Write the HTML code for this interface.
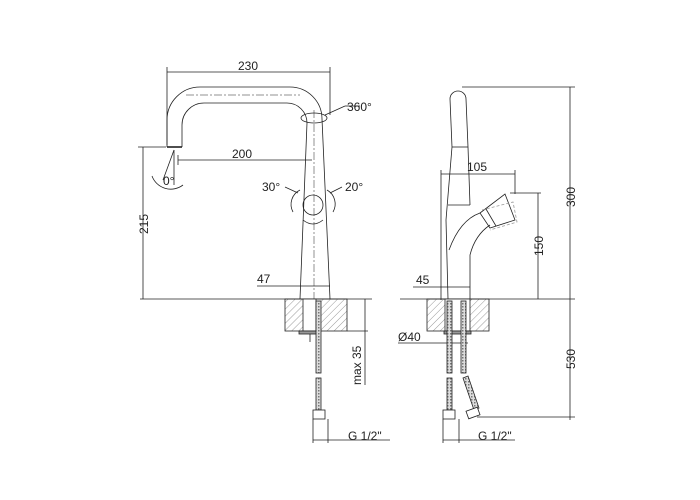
<!DOCTYPE html>
<html><head><meta charset="utf-8"><style>html,body{margin:0;padding:0;background:#fff}svg{display:block}text{font-family:"Liberation Sans",sans-serif;font-size:12px;fill:#222}</style></head><body>
<svg width="700" height="500" viewBox="0 0 700 500" xmlns="http://www.w3.org/2000/svg">
<defs>
<pattern id="h" width="5" height="5" patternUnits="userSpaceOnUse" patternTransform="rotate(45)"><line x1="0" y1="0" x2="0" y2="5" stroke="#555" stroke-width="0.6"/></pattern>
<pattern id="b" width="3" height="3" patternUnits="userSpaceOnUse"><rect width="3" height="3" fill="#ddd"/><rect width="1.5" height="1.5" fill="#777"/></pattern>
</defs>
<g fill="none" stroke="#222" stroke-width="0.8">
<!-- LEFT VIEW -->
<line x1="140" y1="299" x2="372" y2="299"/>
<path d="M167 147 V120 A33 33 0 0 1 200 87 H290 A32 32 0 0 1 322 119 L330 299"/>
<path d="M182 147 V125 A22 22 0 0 1 204 103 H287 A20 20 0 0 1 307 123 L300 299"/>
<line x1="167" y1="147" x2="182" y2="147" stroke-width="1.6"/>
<line x1="186" y1="95" x2="300" y2="95" stroke-dasharray="8 2 2 2" stroke-width="0.5"/>
<line x1="314" y1="110" x2="314" y2="299" stroke-dasharray="8 2 2 2" stroke-width="0.5"/>
<ellipse cx="314" cy="118" rx="13" ry="5"/>
<circle cx="313" cy="205" r="10"/>
<path d="M303 220 Q313 228 323 220"/>
<path d="M300 190 A16 16 0 0 0 293 212"/><path d="M327 190 A16 16 0 0 1 333 212"/>
<path d="M152 176 A20 20 0 0 0 183 185"/>
<line x1="174" y1="150" x2="163" y2="180"/><line x1="174" y1="150" x2="174" y2="185"/>
<line x1="167" y1="72" x2="330" y2="72"/><line x1="167" y1="67" x2="167" y2="145"/><line x1="330" y1="67" x2="330" y2="115"/>
<line x1="178" y1="160" x2="312" y2="160"/><line x1="178" y1="155" x2="178" y2="165"/>
<line x1="143" y1="147" x2="143" y2="299"/><line x1="138" y1="147" x2="166" y2="147"/>
<line x1="296" y1="286" x2="330" y2="286"/><line x1="257" y1="286" x2="296" y2="286"/>
<line x1="325" y1="115" x2="345" y2="106"/><line x1="345" y1="106" x2="360" y2="106"/>
<line x1="285" y1="187" x2="298" y2="193"/><line x1="342" y1="187" x2="330" y2="193"/>
<rect x="285" y="299" width="62" height="32" fill="url(#h)"/>
<rect x="303" y="299" width="13" height="32" fill="#fff"/>
<rect x="299" y="331" width="21" height="3" fill="#999"/>
<line x1="310" y1="334" x2="310" y2="342"/>
<rect x="316" y="301" width="5" height="72" fill="url(#b)"/>
<rect x="316" y="378" width="5" height="32" fill="url(#b)"/>
<rect x="313" y="410" width="12" height="9" fill="#fff"/>
<line x1="313" y1="419" x2="313" y2="443"/><line x1="328" y1="419" x2="328" y2="443"/>
<line x1="313" y1="440" x2="390" y2="440"/>
<line x1="365" y1="299" x2="365" y2="385"/><line x1="347" y1="331" x2="368" y2="331"/>
<!-- RIGHT VIEW -->
<line x1="400" y1="299" x2="575" y2="299"/>
<path d="M450 99 A8 8 0 0 1 466 99 L468 147 L470 205"/>
<path d="M450 99 L452 147 L446 220 L448 299"/>
<line x1="452" y1="147" x2="468" y2="147"/>
<line x1="448" y1="205" x2="470" y2="205"/>
<path d="M449 250 Q460 220 480 213"/>
<path d="M470 299 L470 255 Q475 235 490 225"/>
<path d="M480 213 L505 194 L515 220 L490 228 Z"/>
<line x1="486" y1="209" x2="496" y2="226"/>
<path d="M482 210 L513 202 L517 222 L490 230" stroke="#999" stroke-dasharray="3 2"/>
<line x1="462" y1="87" x2="575" y2="87"/><line x1="570" y1="87" x2="570" y2="420"/>
<line x1="441" y1="174" x2="515" y2="174"/><line x1="441" y1="170" x2="441" y2="300"/><line x1="515" y1="170" x2="515" y2="194"/>
<line x1="510" y1="193" x2="541" y2="193"/><line x1="538" y1="193" x2="538" y2="299"/>
<line x1="413" y1="287" x2="470" y2="287"/>
<line x1="398" y1="343" x2="468" y2="343"/>
<rect x="427" y="299" width="62" height="32" fill="url(#h)"/>
<rect x="445" y="299" width="25" height="32" fill="#fff"/>
<rect x="444" y="331" width="27" height="3" fill="#999"/>
<rect x="447" y="301" width="5" height="72" fill="url(#b)"/>
<rect x="461" y="301" width="5" height="72" fill="url(#b)"/>
<rect x="447" y="378" width="5" height="32" fill="url(#b)"/>
<path d="M463 378 L468 376 L479 408 L474 410 Z" fill="url(#b)"/>
<rect x="443" y="410" width="12" height="9" fill="#fff"/>
<rect x="467" y="409" width="12" height="8" fill="#fff" transform="rotate(-20 473 413)"/>
<line x1="477" y1="417" x2="575" y2="417"/>
<line x1="443" y1="419" x2="443" y2="443"/><line x1="459" y1="419" x2="459" y2="443"/>
<line x1="443" y1="440" x2="515" y2="440"/>
</g>
<text x="238" y="70">230</text>
<text x="347" y="111" font-size="10">360°</text>
<text x="232" y="158">200</text>
<text x="163" y="185">0°</text>
<text x="262" y="191" font-size="11">30°</text>
<text x="345" y="191" font-size="11">20°</text>
<text x="257" y="283">47</text>
<text x="348" y="440">G 1/2"</text>
<text transform="translate(148 234) rotate(-90)">215</text>
<text transform="translate(361 385) rotate(-90)">max 35</text>
<text x="467" y="171">105</text>
<text x="416" y="284">45</text>
<text x="398" y="341">Ø40</text>
<text x="478" y="440">G 1/2"</text>
<text transform="translate(575 207) rotate(-90)">300</text>
<text transform="translate(543 256) rotate(-90)">150</text>
<text transform="translate(575 369) rotate(-90)">530</text>
</svg>
</body></html>
